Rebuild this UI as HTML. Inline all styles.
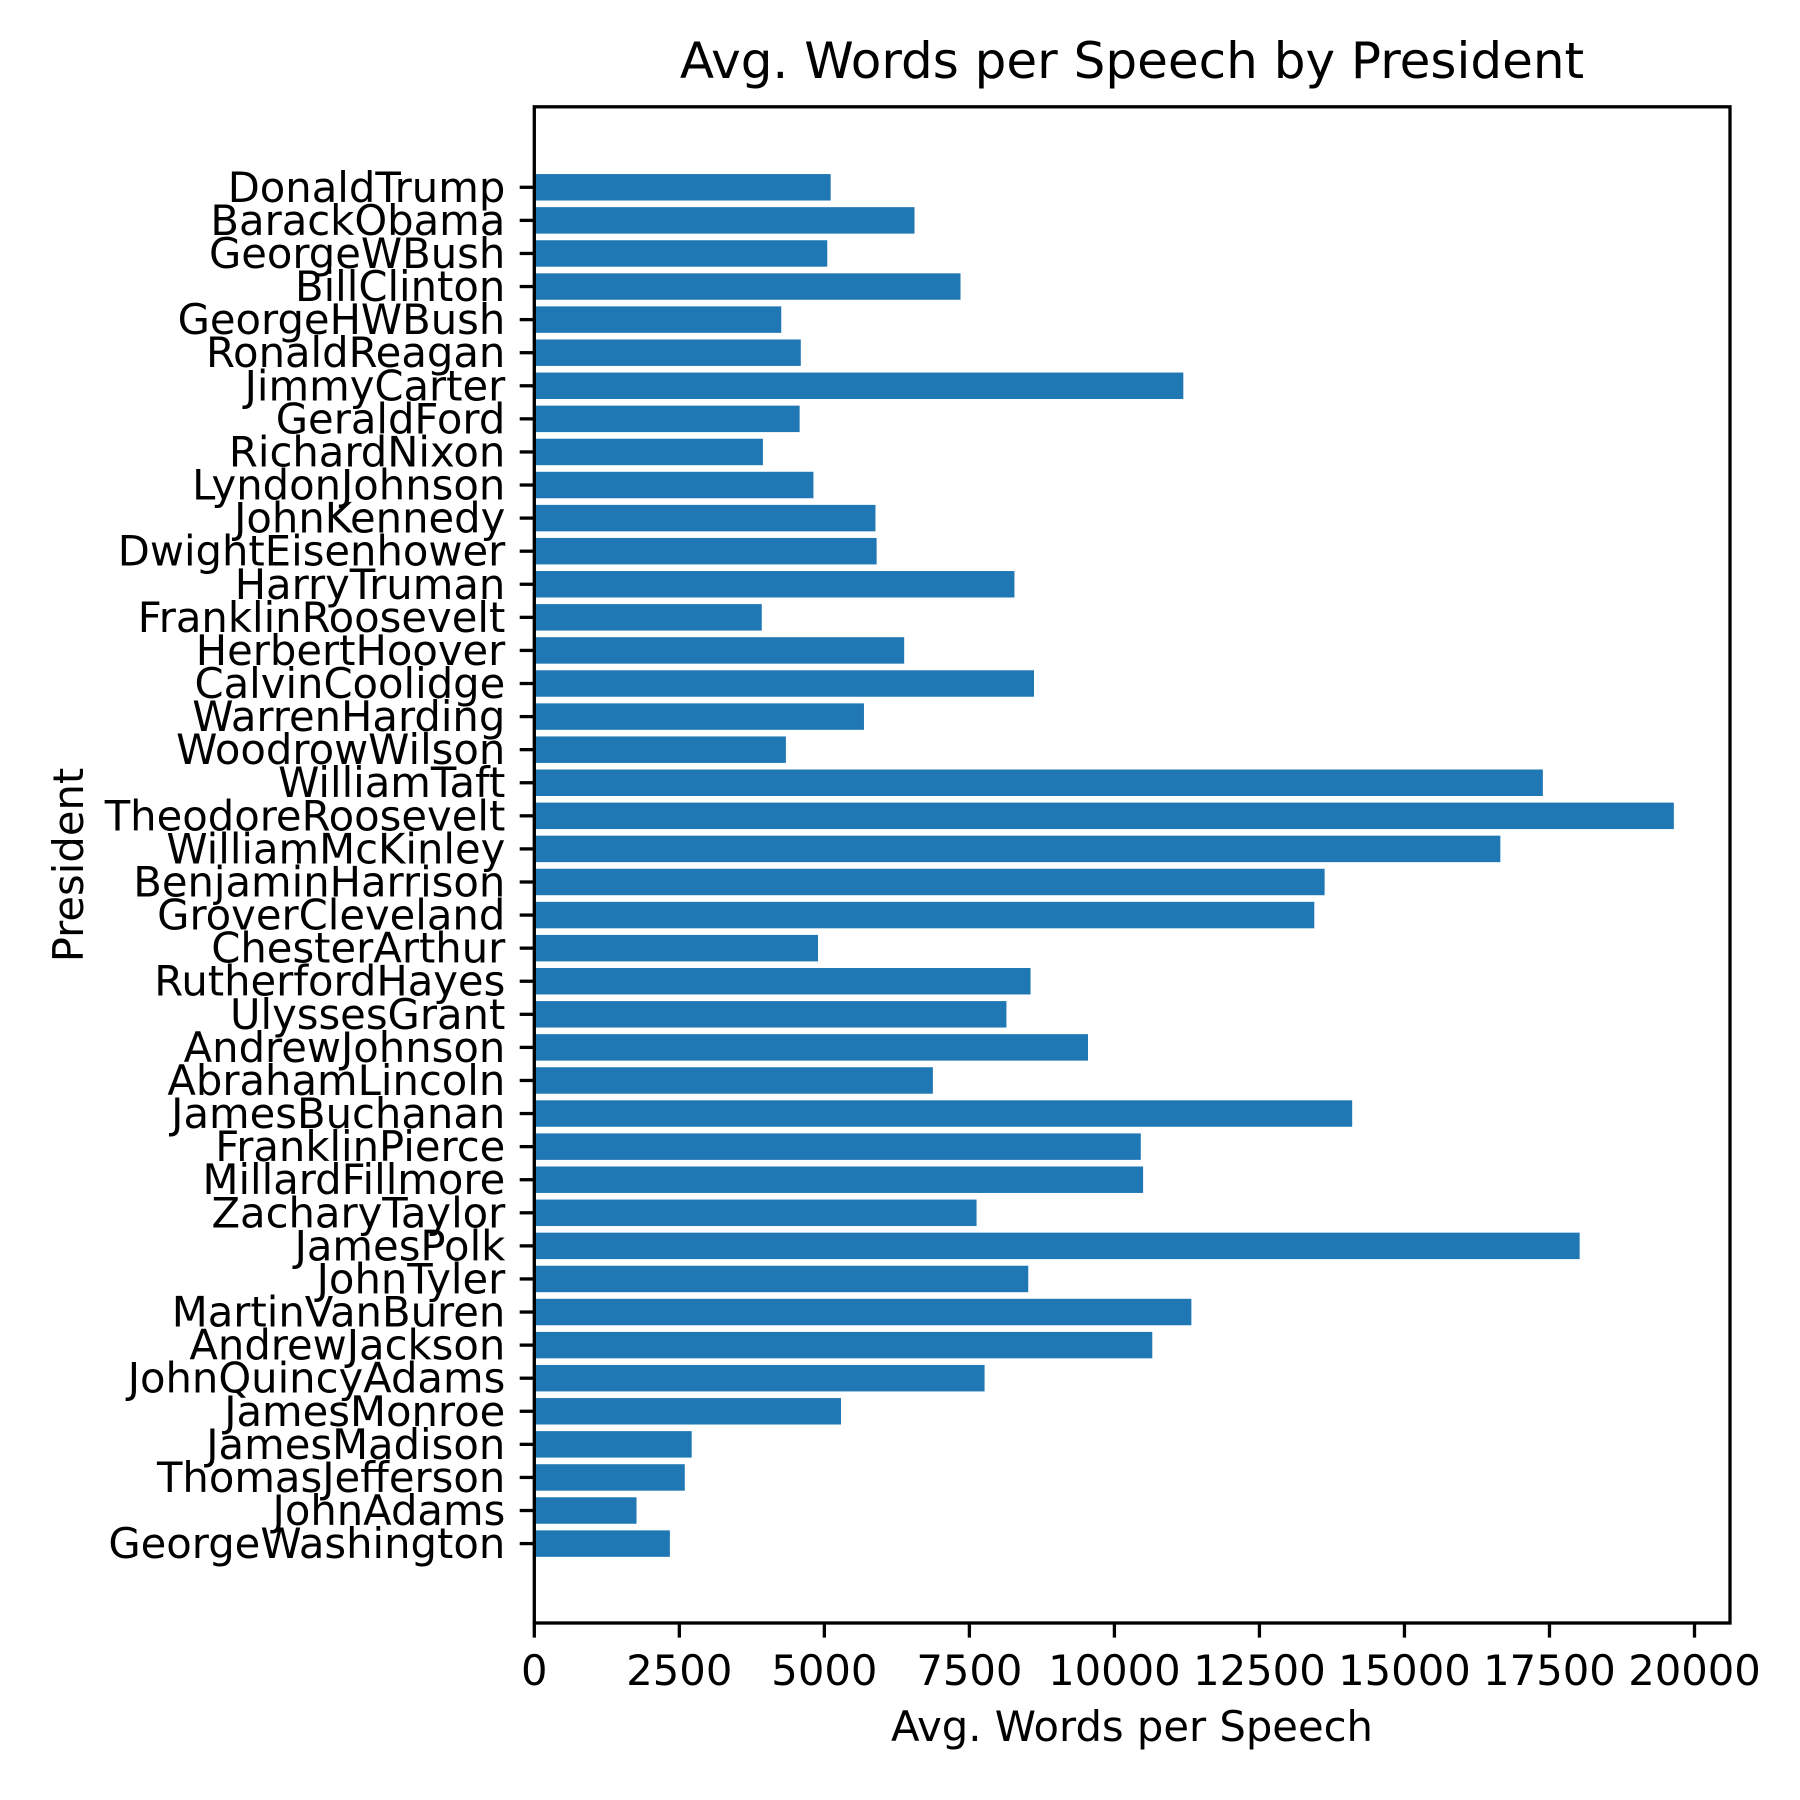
<!DOCTYPE html>
<html><head><meta charset="utf-8"><style>
html,body{margin:0;padding:0;background:#fff;}
svg{display:block;font-family:"DejaVu Sans","Liberation Sans",sans-serif;}
</style></head><body>
<svg id="chart" width="1800" height="1800" viewBox="0 0 1800 1800" xmlns="http://www.w3.org/2000/svg">
<rect width="1800" height="1800" fill="#fff"/>
<text x="1132" y="78" font-size="50" text-anchor="middle">Avg. Words per Speech by President</text>
<g id="bars"></g>
<g id="yticks"></g>
<g id="xticks"></g>
<rect x="534.3" y="106.8" width="1195.7" height="1516.2" fill="none" stroke="#000" stroke-width="3.3"/>
<text x="1132" y="1741" font-size="41.7" text-anchor="middle">Avg. Words per Speech</text>
<text x="0" y="0" font-size="41.7" text-anchor="middle" transform="translate(83,865) rotate(-90)">President</text>
</svg>
<script>
const presidents = ["GeorgeWashington","JohnAdams","ThomasJefferson","JamesMadison","JamesMonroe","JohnQuincyAdams","AndrewJackson","MartinVanBuren","JohnTyler","JamesPolk","ZacharyTaylor","MillardFillmore","FranklinPierce","JamesBuchanan","AbrahamLincoln","AndrewJohnson","UlyssesGrant","RutherfordHayes","ChesterArthur","GroverCleveland","BenjaminHarrison","WilliamMcKinley","TheodoreRoosevelt","WilliamTaft","WoodrowWilson","WarrenHarding","CalvinCoolidge","HerbertHoover","FranklinRoosevelt","HarryTruman","DwightEisenhower","JohnKennedy","LyndonJohnson","RichardNixon","GeraldFord","JimmyCarter","RonaldReagan","GeorgeHWBush","BillClinton","GeorgeWBush","BarackObama","DonaldTrump"];
const avgWords = [2337,1762,2594,2713,5287,7762,10653,11327,8515,18020,7624,10495,10455,14099,6871,9545,8139,8554,4891,13446,13624,16653,19644,17386,4337,5683,8614,6376,3921,8277,5901,5881,4812,3941,4574,11188,4594,4257,7347,5050,6554,5109];
const xTickValues = [0,2500,5000,7500,10000,12500,15000,17500,20000];

const NS = "http://www.w3.org/2000/svg";
const AX = {left:534.3, right:1730, top:106.8, bottom:1623};
const X0 = 534.3, XPX = (1694.5-534.3)/20000;
const Y0 = 1543.6, YSTEP = (1543.6-187.3)/41;
function xScale(v){ return X0 + v*XPX; }
function yScale(i){ return Y0 - i*YSTEP; }
const unit = YSTEP;

const bars = document.getElementById('bars');
const yt = document.getElementById('yticks');
presidents.forEach((p,i)=>{
  const cy = yScale(i), h = unit*0.8;
  const r = document.createElementNS(NS,'rect');
  r.setAttribute('x', xScale(0));
  r.setAttribute('y', cy - h/2);
  r.setAttribute('width', xScale(avgWords[i]) - xScale(0));
  r.setAttribute('height', h);
  r.setAttribute('fill', '#1f77b4');
  
  
  bars.appendChild(r);
  const t = document.createElementNS(NS,'line');
  t.setAttribute('x1', AX.left); t.setAttribute('x2', AX.left-14.6);
  t.setAttribute('y1', cy); t.setAttribute('y2', cy);
  t.setAttribute('stroke','#000'); t.setAttribute('stroke-width','3.3');
  
  
  yt.appendChild(t);
  const l = document.createElementNS(NS,'text');
  l.setAttribute('x', AX.left-29); l.setAttribute('y', cy+14.5);
  l.setAttribute('font-size','41.7'); l.setAttribute('text-anchor','end');
  l.textContent = p;
  
  
  yt.appendChild(l);
});
const xt = document.getElementById('xticks');
xTickValues.forEach(v=>{
  const x = xScale(v);
  const t = document.createElementNS(NS,'line');
  t.setAttribute('x1', x); t.setAttribute('x2', x);
  t.setAttribute('y1', AX.bottom); t.setAttribute('y2', AX.bottom+14.6);
  t.setAttribute('stroke','#000'); t.setAttribute('stroke-width','3.3');
  
  
  xt.appendChild(t);
  const l = document.createElementNS(NS,'text');
  l.setAttribute('x', x); l.setAttribute('y', 1685);
  l.setAttribute('font-size','41.7'); l.setAttribute('text-anchor','middle');
  l.textContent = v;
  
  
  xt.appendChild(l);
});
</script>
</body></html>
